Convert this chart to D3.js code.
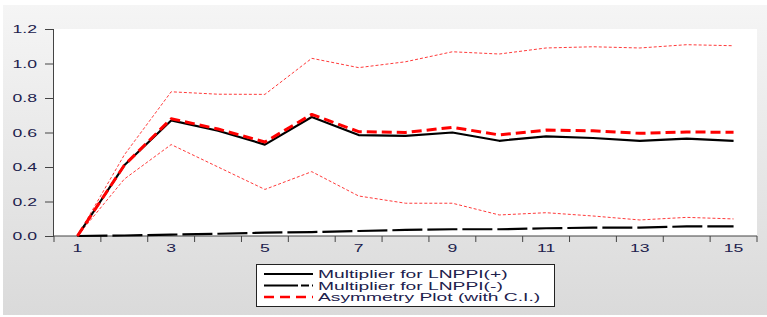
<!DOCTYPE html>
<html>
<head>
<meta charset="utf-8">
<script src="https://cdn.jsdelivr.net/npm/d3@7"></script>
<style>
  body { margin: 0; background: #fff; }
  svg text { font-family: "Liberation Sans", Arial, sans-serif; }
</style>
</head>
<body>
<script>
const width = 767;
const height = 317;

// periods and series
const periods = [1, 2, 3, 4, 5, 6, 7, 8, 9, 10, 11, 12, 13, 14, 15];
const multPos = [0, 0.41, 0.67, 0.61, 0.53, 0.69, 0.585, 0.58, 0.60, 0.552, 0.578, 0.568, 0.551, 0.564, 0.551];
const multNeg = [0, 0.003, 0.008, 0.013, 0.019, 0.023, 0.029, 0.035, 0.039, 0.039, 0.045, 0.048, 0.048, 0.056, 0.056];
const asym = [0, 0.41, 0.68, 0.62, 0.545, 0.705, 0.605, 0.60, 0.63, 0.586, 0.614, 0.61, 0.595, 0.603, 0.601];
const upperCI = [0, 0.47, 0.836, 0.822, 0.821, 1.03, 0.976, 1.01, 1.068, 1.055, 1.09, 1.097, 1.09, 1.109, 1.103];
const lowerCI = [0, 0.33, 0.53, 0.40, 0.27, 0.373, 0.232, 0.19, 0.19, 0.122, 0.135, 0.116, 0.093, 0.108, 0.099];
const yTicks = [0, 0.2, 0.4, 0.6, 0.8, 1.0, 1.2];
const xLabels = [1, 3, 5, 7, 9, 11, 13, 15];
const legendItems = ['Multiplier for LNPPI(+)', 'Multiplier for LNPPI(-)', 'Asymmetry Plot (with C.I.)'];

const svg = d3.select('body').append('svg')
  .attr('width', width)
  .attr('height', height);

const defs = svg.append('defs');
const grad = defs.append('linearGradient')
  .attr('id', 'bg').attr('x1', 0).attr('y1', 0).attr('x2', 0).attr('y2', 1);
grad.append('stop').attr('offset', '0%').attr('stop-color', '#f5f5f5');
grad.append('stop').attr('offset', '100%').attr('stop-color', '#dadada');

svg.append('rect')
  .attr('x', 3).attr('y', 5)
  .attr('width', width - 3).attr('height', height - 7)
  .attr('fill', 'url(#bg)');

const plotL = 54, plotR = 757, plotT = 29, plotB = 236;

svg.append('rect')
  .attr('x', plotL).attr('y', plotT)
  .attr('width', plotR - plotL).attr('height', plotB - plotT)
  .attr('fill', '#fff');

const x = d3.scaleLinear().domain([0.5, 15.5]).range([plotL, plotR]);
const y = d3.scaleLinear().domain([0, 1.2]).range([plotB, plotT]);

const textColor = '#20204c';

// the original's text is wide, so stretch it sideways
function wideText(g, px, py, str, anchor, sx) {
  return g.append('text')
    .attr('transform', `translate(${px},${py}) scale(${sx || 1.6},1)`)
    .attr('text-anchor', anchor)
    .attr('fill', textColor)
    .style('font-size', '11px')
    .text(str);
}

// y axis
const yAxis = d3.axisLeft(y)
  .tickValues(yTicks)
  .tickSize(9)
  .tickFormat('');
const gy = svg.append('g').attr('transform', `translate(${plotL},0)`).call(yAxis);
gy.select('.domain').attr('stroke', '#444').attr('d', `M-0.5,${plotT}V${plotB}`);
gy.selectAll('.tick line').attr('stroke', '#444');
yTicks.forEach(v => {
  wideText(svg, 37, y(v) + 4, d3.format('.1f')(v), 'end');
});

// x axis: ticks at period boundaries, labels at odd periods
const bounds = d3.range(0.5, 15.6, 1);
const gx = svg.append('g').attr('transform', `translate(0,${plotB})`);
gx.append('line')
  .attr('x1', plotL).attr('x2', plotR)
  .attr('stroke', '#444');
gx.selectAll('line.tk').data(bounds).enter().append('line')
  .attr('class', 'tk')
  .attr('x1', d => x(d)).attr('x2', d => x(d))
  .attr('y1', 0).attr('y2', 6)
  .attr('stroke', '#444');
xLabels.forEach(v => {
  wideText(gx, x(v), 16, String(v), 'middle');
});

const line = d3.line().x((d, i) => x(periods[i])).y(d => y(d));

const series = [
  { data: upperCI, color: '#ff3a3a', w: 1, dash: '3,2' },
  { data: lowerCI, color: '#ff3a3a', w: 1, dash: '3,2' },
  { data: multNeg, color: '#000', w: 2.2, dash: '30,5' },
  { data: multPos, color: '#000', w: 2.2, dash: null },
  { data: asym, color: '#ff0000', w: 3, dash: '10,5' }
];

svg.selectAll('path.series').data(series).enter().append('path')
  .attr('class', 'series')
  .attr('d', d => line(d.data))
  .attr('fill', 'none')
  .attr('stroke', d => d.color)
  .attr('stroke-width', d => d.w)
  .attr('stroke-dasharray', d => d.dash)
  .attr('stroke-linejoin', 'round');

// legend
const lg = svg.append('g').attr('transform', 'translate(256,264)');
lg.append('rect')
  .attr('x', 0.5).attr('y', 0.5)
  .attr('width', 298).attr('height', 42)
  .attr('fill', '#fff')
  .attr('stroke', '#222');
const legendStyles = [
  { color: '#000', w: 2, dash: null },
  { color: '#000', w: 2, dash: '34,3,8,3' },
  { color: '#ff0000', w: 2.5, dash: '10,6' }
];
legendItems.forEach((t, i) => {
  const yy = 10 + i * 11.5;
  lg.append('line')
    .attr('x1', 8).attr('x2', 57)
    .attr('y1', yy).attr('y2', yy)
    .attr('stroke', legendStyles[i].color)
    .attr('stroke-width', legendStyles[i].w)
    .attr('stroke-dasharray', legendStyles[i].dash);
  wideText(lg, 62, yy + 4, t, 'start', 1.75);
});
</script>
</body>
</html>
